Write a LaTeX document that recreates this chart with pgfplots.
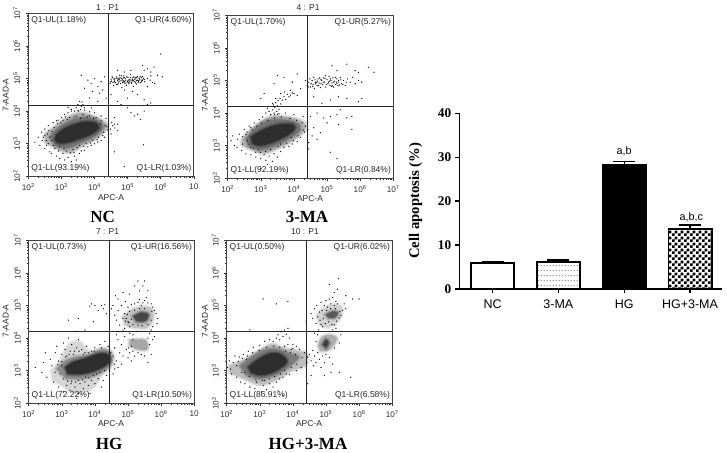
\documentclass[border=0pt]{standalone}
\usepackage{pgfplots}
\pgfplotsset{compat=1.18}
\usepackage{fontspec}
\setmainfont{Liberation Sans}
\newfontfamily\tim{Liberation Serif}
\usetikzlibrary{patterns}
\pgfdeclarepatternformonly{fchk}{\pgfpointorigin}{\pgfqpoint{5.6pt}{5.6pt}}{\pgfqpoint{5.6pt}{5.6pt}}{\pgfpathrectangle{\pgfpointorigin}{\pgfqpoint{2.8pt}{2.8pt}}\pgfpathrectangle{\pgfqpoint{2.8pt}{2.8pt}}{\pgfqpoint{2.8pt}{2.8pt}}\pgfusepath{fill}}
\pgfdeclarepatternformonly{fdot}{\pgfpointorigin}{\pgfqpoint{3pt}{5.3pt}}{\pgfqpoint{3pt}{5.3pt}}{\pgfpathcircle{\pgfqpoint{1.5pt}{2.6pt}}{0.65pt}\pgfusepath{fill}}
\def\mt{2.30,2.48,2.60,2.70,2.78,2.85,2.90,2.95,3.30,3.48,3.60,3.70,3.78,3.85,3.90,3.95,4.30,4.48,4.60,4.70,4.78,4.85,4.90,4.95,5.30,5.48,5.60,5.70,5.78,5.85,5.90,5.95,6.30,6.48,6.60,6.70,6.78,6.85,6.90,6.95}
\pgfplotsset{
 facs/.style={scale only axis,width=165.5pt,height=163pt,xmin=2,xmax=7,ymin=2,ymax=7,
  axis line style={black!75,line width=0.8pt},clip=true,
  xtick={2,3,4,5,6,7},ytick={2,3,4,5,6,7},minor xtick=\mt,minor ytick=\mt,
  tick align=outside,major tick length=2.5pt,minor tick length=1.5pt,tick style={black!80,line width=0.5pt},
  xtick pos=bottom,ytick pos=left,
  yticklabels={10\textsuperscript{2},10\textsuperscript{3},10\textsuperscript{4},10\textsuperscript{5},10\textsuperscript{6},10\textsuperscript{7}},
  ticklabel style={font=\fontsize{8.2}{9}\selectfont,text=black!80},
  yticklabel style={rotate=90,anchor=south,yshift=2pt},
  xticklabel style={yshift=-1pt}},
 xseven/.style={xticklabels={10\textsuperscript{2},10\textsuperscript{3},10\textsuperscript{4},10\textsuperscript{5},10\textsuperscript{6},10\textsuperscript{7}}},
 xcut/.style={xticklabels={10\textsuperscript{2},10\textsuperscript{3},10\textsuperscript{4},10\textsuperscript{5},10\textsuperscript{6},10}}
}
\newcommand{\pts}[1]{\addplot[only marks,mark=*,mark size=0.36pt,draw=none,mark options={draw=none,fill=black!75}] table[row sep=crcr] {#1};}
\newcommand{\blob}[2]{%
\addplot[draw=#1,draw opacity=0.2,line width=5pt,smooth,tension=0.6] table[row sep=crcr] {#2} -- cycle;
\addplot[draw=#1,draw opacity=0.4,line width=2.5pt,smooth,tension=0.6] table[row sep=crcr] {#2} -- cycle;
\addplot[draw=none,fill=#1,smooth,tension=0.6] table[row sep=crcr] {#2} -- cycle;}
\newcommand{\cross}[2]{\addplot[black!85,line width=0.8pt] table[row sep=crcr] {#1 2\\#1 7\\};\addplot[black!85,line width=0.8pt] table[row sep=crcr] {2 #2\\7 #2\\};}
\newcommand{\T}[4]{\node[font=\fontsize{#3}{#3}\selectfont,inner sep=0pt,text=black!85] at (#1pt,452pt-#2pt) {#4};}
\newcommand{\TT}[3]{\node[font=\tim\bfseries\fontsize{17}{17}\selectfont,inner sep=0pt] at (#1pt,452pt-#2pt) {#3};}
\newcommand{\R}[3]{\node[rotate=90,font=\fontsize{8.4}{9}\selectfont,inner sep=0pt,text=black!85] at (#1pt,452pt-#2pt) {#3};}
\newcommand{\Q}[4]{%
 \node[anchor=west,font=\fontsize{8.5}{9}\selectfont,inner sep=0pt,text=black!85] at (rel axis cs:0.017,0.955) {Q1-UL(#1)};
 \node[anchor=east,font=\fontsize{8.5}{9}\selectfont,inner sep=0pt,text=black!85] at (rel axis cs:0.987,0.955) {Q1-UR(#2)};
 \node[anchor=west,font=\fontsize{8.5}{9}\selectfont,inner sep=0pt,text=black!85] at (rel axis cs:0.017,0.052) {Q1-LL(#3)};
 \node[anchor=east,font=\fontsize{8.5}{9}\selectfont,inner sep=0pt,text=black!85] at (rel axis cs:0.987,0.052) {Q1-LR(#4)};}
\begin{document}
\begin{tikzpicture}[x=1pt,y=1pt]
\path[use as bounding box] (0,0) rectangle (727pt,452pt);
% ---------- NC
\begin{axis}[facs,xcut,at={(28.3pt,275.7pt)},anchor=south west]
\blob{black!30}{2.5 3.3\\2.83 3.55\\3.16 3.8\\3.56 3.95\\3.97 3.85\\4.33 3.65\\4.38 3.48\\4.05 3.15\\3.66 2.95\\3.26 2.72\\2.86 2.85\\2.5 3.05\\}
\blob{black!55}{2.65 3.22\\2.92 3.5\\3.3 3.72\\3.7 3.82\\4.08 3.72\\4.26 3.5\\4.0 3.22\\3.6 3.03\\3.2 2.87\\2.82 2.93\\}
\blob{black!82}{2.85 3.27\\3.08 3.46\\3.41 3.6\\3.76 3.68\\4.04 3.63\\4.13 3.48\\3.9 3.29\\3.56 3.15\\3.21 3.04\\2.93 3.01\\2.8 3.12\\}
\pts{4.47 4.85\\4.52 4.92\\4.55 5.02\\4.58 4.78\\4.61 4.95\\4.64 4.88\\4.66 5.05\\4.69 4.82\\4.71 4.98\\4.74 4.9\\4.76 5.1\\4.79 4.85\\4.81 5.0\\4.83 4.72\\4.86 4.94\\4.89 5.08\\4.91 4.86\\4.94 4.99\\4.96 4.79\\4.99 4.92\\5.01 5.04\\5.04 4.84\\5.06 4.96\\5.09 5.12\\5.11 4.88\\5.14 4.98\\5.17 4.76\\5.19 5.05\\5.22 4.9\\5.25 4.99\\5.27 4.83\\5.3 5.06\\5.33 4.93\\5.36 5.0\\5.39 4.87\\5.42 5.03\\5.45 4.95\\5.48 5.01\\5.52 4.9\\4.62 5.0\\4.7 4.93\\4.8 4.93\\4.88 5.02\\4.9 5.03\\5.0 4.9\\5.1 4.95\\5.2 4.98\\5.3 4.95\\5.35 5.01\\4.5 4.98\\4.56 4.88\\4.68 5.01\\4.75 4.96\\4.85 4.87\\4.93 4.93\\5.03 4.95\\5.13 4.92\\5.23 5.02\\5.32 4.88\\5.41 4.95\\5.6 5.0\\5.68 4.95\\5.75 4.88\\5.82 4.85\\5.6 4.75\\5.7 5.08\\4.6 4.9\\4.72 4.86\\4.77 5.02\\4.84 4.98\\4.9 4.9\\4.97 5.05\\5.02 4.87\\5.08 5.02\\5.12 4.85\\5.16 5.03\\5.18 4.93\\5.24 4.86\\5.28 5.03\\5.34 4.9\\5.38 5.06\\5.43 4.9\\4.48 4.9\\4.53 5.05\\4.66 4.82\\4.82 5.08\\4.59 4.98\\4.73 5.0\\4.87 4.9\\4.95 4.86\\5.05 4.9\\5.15 4.95\\5.27 4.93\\5.37 4.96\\5.45 5.06\\5.5 4.97\\
3.8 4.95\\3.9 4.85\\4.0 5.0\\4.1 4.75\\4.2 4.9\\4.3 5.05\\3.7 4.7\\3.95 4.6\\4.15 4.55\\3.6 5.1\\4.25 4.65\\3.85 4.4\\3.5 4.2\\3.55 4.3\\3.6 4.15\\3.62 4.28\\3.45 4.1\\3.58 4.05\\3.4 4.0\\3.65 4.2\\3.3 4.05\\3.7 4.1\\3.2 4.12\\3.52 4.0\\3.9 4.1\\4.1 4.3\\4.35 4.4\\
4.5 4.5\\4.7 4.3\\5.0 4.4\\5.3 4.5\\5.5 4.35\\5.7 4.25\\5.1 3.95\\5.3 3.9\\5.5 4.0\\5.0 4.1\\4.8 4.2\\4.6 3.8\\4.55 3.55\\4.6 3.6\\4.7 3.4\\4.5 3.3\\5.2 3.85\\5.4 3.75\\4.62 3.48\\4.48 3.45\\4.52 3.65\\4.7 3.6\\6.0 5.75\\5.45 5.4\\5.8 5.35\\5.5 5.25\\5.7 5.2\\5.9 5.1\\6.05 5.05\\5.6 5.3\\5.1 5.25\\4.9 5.2\\4.7 5.25\\5.48 2.97\\4.9 2.3\\4.6 2.75\\5.6 4.2\\4.9 4.65\\5.15 4.6\\
2.2 3.05\\2.3 3.2\\2.35 2.95\\2.4 3.35\\2.5 3.45\\2.5 2.85\\2.6 3.55\\2.65 2.75\\2.7 2.7\\2.75 3.65\\2.85 3.7\\2.85 2.62\\2.95 2.55\\3.0 3.8\\3.05 2.7\\3.1 2.5\\3.1 3.9\\3.2 3.95\\3.2 2.58\\3.3 2.45\\3.3 4.0\\3.4 2.62\\3.45 2.5\\3.5 4.02\\3.55 2.7\\3.6 2.78\\3.7 2.8\\3.7 4.03\\3.8 2.9\\3.85 3.98\\3.9 2.95\\4.0 3.0\\4.0 3.95\\4.1 3.05\\4.2 3.1\\4.2 3.85\\4.3 3.2\\4.35 3.78\\4.42 3.3\\4.42 3.6\\4.4 3.42\\4.38 3.52\\2.55 3.1\\2.45 3.2\\2.9 3.72\\3.12 3.82\\2.92 2.78\\3.38 2.72\\2.75 2.95\\2.42 3.1\\2.58 3.3\\
2.5 3.25\\2.62 3.4\\2.7 3.1\\2.78 3.5\\2.88 3.62\\2.95 2.9\\3.05 3.72\\3.15 2.78\\3.25 3.8\\3.35 2.82\\3.45 3.85\\3.55 2.95\\3.65 3.9\\3.75 3.0\\3.85 3.85\\3.95 3.1\\4.05 3.8\\4.12 3.2\\4.2 3.7\\4.28 3.35\\4.32 3.55\\2.65 3.2\\2.72 3.38\\2.8 2.85\\2.98 3.66\\3.08 2.85\\3.18 3.74\\3.28 2.72\\3.38 3.82\\3.48 2.88\\3.58 3.78\\3.68 2.92\\3.78 3.82\\3.88 3.02\\3.98 3.78\\4.08 3.12\\4.18 3.62\\4.25 3.25\\2.55 2.95\\2.6 3.0\\}
\cross{4.43}{4.187}
\Q{1.18\%}{4.60\%}{93.19\%}{1.03\%}
\end{axis}
% ---------- 3-MA
\begin{axis}[facs,xseven,at={(227.7pt,273.7pt)},anchor=south west]
\blob{black!30}{2.42 3.17\\2.65 3.45\\2.98 3.72\\3.28 3.88\\3.68 3.9\\4.15 3.8\\4.36 3.62\\4.25 3.38\\3.88 3.1\\3.48 2.9\\3.08 2.76\\2.67 2.9\\2.42 3.03\\}
\blob{black!55}{2.55 3.2\\2.82 3.52\\3.2 3.77\\3.7 3.8\\4.12 3.68\\4.17 3.45\\3.8 3.18\\3.4 2.98\\3.0 2.87\\2.62 3.0\\}
\blob{black!82}{2.7 3.27\\2.95 3.43\\3.33 3.6\\3.73 3.67\\4.0 3.63\\4.0 3.48\\3.73 3.28\\3.33 3.09\\2.98 3.0\\2.75 3.07\\}
\pts{4.4 4.85\\4.45 4.95\\4.5 4.8\\4.55 5.0\\4.58 4.88\\4.62 4.75\\4.66 4.95\\4.7 4.85\\4.73 5.05\\4.76 4.92\\4.8 4.78\\4.84 5.0\\4.87 4.87\\4.9 5.08\\4.93 4.95\\4.96 4.8\\5.0 5.02\\5.03 4.9\\5.06 5.12\\5.09 4.85\\5.12 5.0\\5.15 4.92\\5.18 5.08\\5.2 4.8\\5.23 4.98\\5.26 4.88\\5.3 5.05\\5.33 4.84\\5.36 4.95\\5.4 5.1\\5.44 4.9\\5.5 5.0\\5.55 4.85\\5.62 5.05\\5.7 4.95\\5.78 5.1\\5.85 4.9\\5.95 5.0\\6.05 4.95\\4.48 5.05\\4.6 5.1\\4.72 4.98\\4.82 4.9\\4.95 5.15\\5.08 4.98\\5.16 4.84\\5.28 4.95\\5.38 4.86\\4.65 4.9\\4.78 5.08\\4.52 4.9\\4.57 4.82\\4.64 5.02\\4.69 4.93\\4.75 4.84\\4.82 5.03\\4.88 4.95\\4.94 5.06\\4.99 4.88\\5.05 4.95\\5.1 5.05\\5.14 4.82\\5.2 4.95\\5.25 5.1\\5.3 4.9\\5.35 5.0\\5.42 5.02\\5.48 4.88\\5.58 4.95\\4.43 4.8\\
3.35 4.1\\3.38 4.25\\3.4 4.0\\3.42 4.18\\3.45 4.32\\3.48 4.05\\3.5 4.22\\3.52 4.38\\3.55 4.12\\3.58 4.45\\3.6 4.28\\3.65 4.4\\3.7 4.5\\3.75 4.42\\3.8 4.58\\3.85 4.5\\3.9 4.55\\3.95 4.62\\4.0 4.6\\3.3 3.95\\3.25 4.05\\3.2 4.15\\3.15 4.0\\3.35 4.3\\3.45 4.45\\3.6 4.6\\3.72 4.65\\3.9 4.7\\3.55 3.98\\3.42 3.95\\4.1 4.55\\4.2 4.75\\3.4 4.9\\3.0 4.45\\3.1 4.6\\3.5 5.15\\3.7 5.1\\4.1 5.2\\4.35 5.0\\3.95 4.95\\
4.5 3.9\\4.6 3.55\\4.55 3.3\\4.7 3.2\\4.8 3.4\\5.0 3.7\\5.1 3.9\\5.3 3.95\\5.4 4.1\\5.6 3.85\\5.75 3.9\\5.75 3.5\\5.35 3.65\\4.9 3.85\\4.7 4.0\\4.85 4.3\\5.1 4.4\\5.35 4.5\\5.6 4.45\\5.95 4.35\\6.05 4.45\\4.6 4.5\\5.1 2.8\\5.3 2.6\\4.45 2.9\\6.25 5.4\\6.42 5.25\\5.6 5.5\\5.15 5.45\\5.85 5.3\\5.3 5.3\\5.95 5.25\\4.4 3.45\\4.45 3.1\\
2.15 3.3\\2.1 3.15\\2.2 3.0\\2.3 3.2\\2.35 3.35\\2.28 2.95\\2.42 2.85\\2.5 3.5\\2.55 2.75\\2.65 3.6\\2.7 2.72\\2.8 3.7\\2.85 2.65\\2.95 3.8\\3.0 2.6\\3.05 3.88\\3.15 2.55\\3.2 2.42\\3.25 2.68\\3.35 2.52\\3.4 2.75\\3.5 2.65\\3.6 2.82\\3.7 2.95\\3.75 4.0\\3.85 2.98\\3.95 3.05\\4.0 3.95\\4.1 3.12\\4.2 3.25\\4.28 3.9\\4.32 3.42\\4.4 3.72\\4.42 3.5\\4.35 3.6\\2.45 3.05\\2.55 3.35\\2.7 3.55\\2.85 2.8\\3.1 2.72\\3.0 2.3\\2.7 2.95\\3.3 3.95\\3.5 3.96\\
2.45 3.28\\2.58 3.42\\2.65 3.05\\2.75 3.48\\2.88 3.6\\2.92 2.88\\3.02 3.7\\3.15 2.82\\3.22 3.78\\3.3 2.88\\3.42 3.85\\3.52 2.98\\3.62 3.88\\3.78 3.08\\3.88 3.84\\3.98 3.15\\4.08 3.78\\4.12 3.3\\4.25 3.7\\4.28 3.48\\2.6 3.15\\2.78 2.92\\2.98 2.8\\3.6 3.05\\3.92 3.25\\}
\cross{4.42}{4.2}
\Q{1.70\%}{5.27\%}{92.19\%}{0.84\%}
\end{axis}
% ---------- HG
\begin{axis}[facs,xcut,at={(28.7pt,48.7pt)},anchor=south west]
\blob{black!16}{2.68 3.01\\2.97 3.35\\3.22 3.82\\3.55 3.88\\3.85 3.6\\4.25 3.7\\4.57 3.52\\4.52 3.16\\4.22 2.88\\3.92 2.45\\3.37 2.32\\3.07 2.5\\2.72 2.72\\}
\blob{black!45}{2.85 3.05\\3.07 3.28\\3.4 3.42\\3.8 3.48\\4.2 3.65\\4.47 3.55\\4.47 3.17\\4.08 2.88\\3.6 2.75\\3.12 2.76\\}
\blob{black!82}{3.1 3.1\\3.32 3.26\\3.7 3.38\\4.15 3.53\\4.42 3.48\\4.42 3.24\\4.02 3.0\\3.55 2.89\\3.18 2.9\\}
\blob{black!24}{4.85 4.66\\5.16 4.9\\5.66 4.95\\5.77 4.63\\5.58 4.32\\5.16 4.32\\4.9 4.42\\}
\blob{black!72}{5.16 4.67\\5.41 4.79\\5.62 4.72\\5.52 4.52\\5.25 4.52\\}
\blob{black!35}{5.05 3.94\\5.52 3.94\\5.57 3.65\\5.26 3.66\\5.05 3.79\\}
\pts{4.5 4.9\\4.55 5.0\\4.6 4.7\\4.65 4.55\\4.7 4.85\\4.75 4.4\\4.8 5.0\\4.85 4.25\\4.9 4.75\\4.92 5.12\\5.0 4.95\\5.05 4.15\\5.1 5.02\\5.15 4.1\\5.2 5.05\\5.25 4.2\\5.3 5.1\\5.35 5.18\\5.4 5.0\\5.45 5.08\\5.5 5.15\\5.55 5.25\\5.6 5.08\\5.7 5.05\\5.75 4.95\\5.8 4.85\\5.85 4.75\\5.9 4.6\\5.88 4.45\\5.75 4.35\\5.7 4.25\\5.65 4.15\\5.0 4.5\\4.95 4.6\\5.05 4.35\\4.85 4.6\\4.9 4.3\\4.7 4.2\\5.3 5.75\\5.2 5.6\\5.5 5.75\\5.45 5.6\\5.6 5.45\\5.35 5.45\\5.05 5.35\\4.85 5.4\\4.7 5.2\\4.62 5.3\\4.3 5.02\\4.2 5.0\\4.0 5.0\\3.9 5.05\\3.85 4.98\\4.1 4.85\\4.25 4.9\\4.35 4.75\\3.5 4.6\\3.2 4.55\\3.95 4.5\\3.7 4.25\\3.4 4.2\\
4.98 4.72\\5.05 4.82\\5.1 4.58\\5.15 4.42\\5.2 4.85\\5.3 4.4\\5.35 4.9\\5.42 4.38\\5.5 4.9\\5.6 4.42\\5.7 4.55\\5.72 4.82\\5.02 4.48\\4.92 4.52\\
4.6 3.7\\4.7 3.95\\4.75 3.55\\4.8 3.8\\4.85 3.45\\4.9 4.05\\4.95 3.65\\5.0 3.4\\5.05 3.55\\5.1 3.3\\5.2 3.45\\5.3 3.55\\5.4 3.5\\5.5 3.45\\5.6 3.25\\5.7 3.5\\5.65 3.8\\5.75 3.95\\4.65 3.3\\4.6 3.2\\4.7 3.1\\5.8 4.05\\5.15 3.6\\4.55 3.45\\4.65 4.1\\4.8 3.2\\5.1 3.75\\5.15 3.95\\5.6 4.0\\5.02 3.7\\
2.2 3.1\\2.4 2.95\\2.45 3.25\\2.5 3.55\\2.55 2.8\\2.65 3.35\\2.7 3.15\\2.75 2.65\\2.8 3.55\\2.85 3.75\\2.9 2.5\\2.95 2.9\\3.0 3.5\\3.05 3.85\\3.05 2.35\\3.1 3.65\\3.15 2.55\\3.2 4.0\\3.25 3.6\\3.25 2.4\\3.3 3.8\\3.35 3.5\\3.4 2.5\\3.45 3.7\\3.5 2.3\\3.5 3.95\\3.55 2.6\\3.6 3.65\\3.65 2.45\\3.7 3.55\\3.75 3.75\\3.8 2.55\\3.85 2.3\\3.9 2.7\\3.9 3.6\\4.0 2.6\\4.0 3.7\\4.1 2.75\\4.15 3.8\\4.25 2.7\\4.3 3.9\\4.35 2.85\\4.45 3.0\\4.6 3.05\\4.55 2.9\\4.4 3.75\\3.0 3.15\\2.9 3.3\\3.15 3.45\\3.3 2.68\\3.7 2.65\\4.2 2.5\\3.45 2.15\\
2.8 2.95\\2.88 3.18\\3.0 3.28\\3.05 2.75\\3.12 3.42\\3.18 2.68\\3.22 3.5\\3.28 2.6\\3.38 3.6\\3.42 2.65\\3.5 2.7\\3.52 3.6\\3.62 2.72\\3.65 3.5\\3.72 2.8\\3.8 3.55\\3.82 2.78\\3.95 2.85\\3.98 3.6\\4.05 2.9\\4.15 2.95\\4.2 3.7\\4.3 3.0\\4.48 3.55\\}
\cross{4.43}{4.2}
\Q{0.73\%}{16.56\%}{72.22\%}{10.50\%}
\end{axis}
% ---------- HG+3-MA
\begin{axis}[facs,xseven,at={(226.7pt,48.7pt)},anchor=south west]
\blob{black!26}{2.08 3.16\\2.5 3.33\\2.91 3.58\\3.36 3.82\\3.71 3.7\\4.21 3.6\\4.42 3.52\\4.38 3.16\\3.96 3.0\\3.51 2.72\\3.01 2.57\\2.5 2.76\\2.08 2.95\\}
\blob{black!52}{2.4 3.15\\2.72 3.4\\3.1 3.62\\3.5 3.67\\3.9 3.52\\4.17 3.42\\3.9 3.13\\3.5 2.88\\3.0 2.75\\2.58 2.88\\}
\blob{black!82}{2.65 3.11\\2.93 3.34\\3.31 3.53\\3.63 3.5\\3.82 3.27\\3.5 3.0\\3.06 2.86\\2.74 2.94\\}
\blob{black!18}{4.72 4.72\\5.07 5.0\\5.48 4.97\\5.4 4.55\\5.07 4.32\\4.8 4.42\\}
\blob{black!65}{5.0 4.72\\5.2 4.82\\5.36 4.78\\5.27 4.63\\5.07 4.63\\}
\blob{black!32}{4.76 3.77\\4.88 4.03\\5.15 4.1\\5.33 3.97\\5.1 3.65\\4.83 3.6\\}
\blob{black!75}{4.9 3.8\\5.0 3.95\\5.08 3.85\\5.0 3.7\\}
\pts{4.55 4.75\\4.6 4.6\\4.65 4.9\\4.7 4.45\\4.72 5.0\\4.78 4.25\\4.8 4.8\\4.85 5.1\\4.9 4.35\\4.95 5.0\\5.0 5.15\\5.05 4.95\\5.1 5.2\\5.15 5.05\\5.2 5.25\\5.25 5.0\\5.3 5.12\\5.35 5.05\\5.45 4.7\\5.5 4.85\\5.55 5.05\\5.6 4.9\\5.25 4.4\\5.2 4.25\\5.3 4.3\\5.38 5.82\\5.1 5.65\\5.25 5.4\\5.8 5.2\\6.0 5.2\\5.35 5.5\\5.6 5.3\\4.4 4.5\\3.1 5.2\\3.5 5.05\\3.85 5.12\\2.7 4.25\\
4.75 4.65\\4.82 4.55\\4.88 4.85\\4.92 4.6\\4.98 4.45\\5.02 4.85\\5.08 4.5\\5.14 4.9\\5.18 4.42\\5.28 4.9\\5.32 4.52\\5.42 4.82\\5.4 4.62\\4.85 4.42\\
4.5 3.5\\4.55 3.3\\4.6 3.62\\4.62 3.15\\4.65 3.45\\4.7 3.9\\4.7 3.25\\4.75 3.55\\4.8 3.35\\4.85 3.1\\4.9 3.45\\4.95 3.25\\5.0 3.5\\5.1 3.4\\5.25 3.7\\5.4 3.85\\5.45 4.1\\5.3 4.2\\4.75 4.1\\4.65 4.15\\5.2 3.2\\5.4 2.95\\5.15 2.95\\5.75 2.8\\4.55 2.85\\4.95 2.85\\4.45 2.6\\
3.4 3.9\\3.5 4.0\\3.55 4.1\\3.6 3.95\\3.65 4.2\\3.7 4.05\\3.75 4.25\\3.8 4.12\\3.85 4.3\\3.3 3.95\\3.9 4.0\\4.0 3.8\\4.1 3.75\\3.85 3.8\\3.95 3.65\\
2.02 3.1\\2.08 3.3\\2.15 2.9\\2.2 3.25\\2.25 3.45\\2.3 2.8\\2.38 3.42\\2.42 2.65\\2.5 3.5\\2.55 2.6\\2.65 3.6\\2.7 2.5\\2.8 3.72\\2.85 2.45\\2.9 2.65\\3.0 3.78\\3.05 2.35\\3.1 2.55\\3.15 3.9\\3.2 2.42\\3.3 2.6\\3.4 2.5\\3.5 2.65\\3.55 2.38\\3.6 2.75\\3.7 2.8\\3.75 3.75\\3.8 2.9\\3.9 2.88\\4.0 3.68\\4.1 3.0\\4.2 3.66\\4.25 3.1\\4.35 3.55\\4.42 3.25\\4.45 3.42\\3.7 2.25\\3.15 2.7\\2.6 3.35\\2.3 3.15\\2.45 2.95\\2.12 3.05\\
2.35 3.28\\2.48 3.38\\2.55 2.95\\2.62 3.45\\2.68 2.82\\2.78 3.55\\2.88 2.72\\2.98 3.62\\3.08 2.7\\3.2 3.72\\3.28 2.75\\3.42 3.75\\3.45 2.82\\3.6 3.72\\3.62 2.9\\3.78 3.6\\3.75 3.0\\3.92 3.55\\3.95 3.1\\4.08 3.5\\4.12 3.2\\4.28 3.4\\}
\cross{4.41}{4.2}
\Q{0.50\%}{6.02\%}{86.91\%}{6.58\%}
\end{axis}
% ---------- bars
\begin{axis}[scale only axis,width=262.7pt,height=175.7pt,at={(459.3pt,163pt)},anchor=south west,
 xmin=0.495,xmax=4.486,ymin=0,ymax=40,axis lines=left,axis line style={-,line width=1.6pt},
 xtick={1,2,3,4},xticklabels={NC,3-MA,HG,HG+3-MA},ytick={0,10,20,30,40},yticklabels={0,10,20,30,40},
 tick align=outside,major tick length=4.5pt,tick style={black,line width=1.3pt},
 xticklabel style={font=\fontsize{12.5}{13}\selectfont,yshift=-3pt},
 yticklabel style={font=\tim\bfseries\fontsize{13.3}{14}\selectfont},
 ybar,bar width=43.3pt,clip=false,
 error bars/y dir=plus,error bars/y explicit,error bars/error mark options={rotate=90,mark size=11pt,line width=1.3pt},
 error bars/error bar style={line width=1.3pt}]
\addplot[bar shift=0pt,draw=black,line width=1.7pt,fill=white] coordinates {(1,5.9) +- (0,0.3)};
\addplot[bar shift=0pt,draw=black,line width=1.7pt,fill=white,postaction={pattern=fdot,pattern color=black!80}] coordinates {(2,6.2) +- (0,0.4)};
\addplot[bar shift=0pt,draw=black,line width=1.7pt,fill=black] coordinates {(3,28.2) +- (0,0.85)};
\addplot[bar shift=0pt,draw=black,line width=1.7pt,fill=white,postaction={pattern=fchk,pattern color=black}] coordinates {(4,13.6) +- (0,1.0)};
\node[font=\fontsize{10.8}{11}\selectfont] at (axis cs:3,31.3) {a,b};
\node[font=\fontsize{10.8}{11}\selectfont] at (axis cs:4.02,16.3) {a,b,c};
\end{axis}
\node[rotate=90,font=\tim\bfseries\fontsize{14.7}{15}\selectfont,inner sep=0pt] at (415.7pt,251.3pt) {Cell apoptosis (\%)};
% ---------- panel texts
\T{107.5}{7.5}{8.5}{1 : P1}
\T{308}{7.5}{8.5}{4 : P1}
\T{107.5}{231.5}{8.5}{7 : P1}
\T{305}{231.5}{8.5}{10 : P1}
\T{111}{197.7}{8.5}{APC-A}
\T{310}{199}{8.5}{APC-A}
\T{111}{424}{8.5}{APC-A}
\T{309}{424}{8.5}{APC-A}
\R{5.7}{95}{7-AAD-A}
\R{205}{95}{7-AAD-A}
\R{5.7}{321}{7-AAD-A}
\R{205}{321}{7-AAD-A}
\TT{102.7}{216.7}{NC}
\TT{307}{217}{3-MA}
\TT{109}{443.5}{HG}
\TT{308}{443.5}{HG+3-MA}
\end{tikzpicture}
\end{document}
